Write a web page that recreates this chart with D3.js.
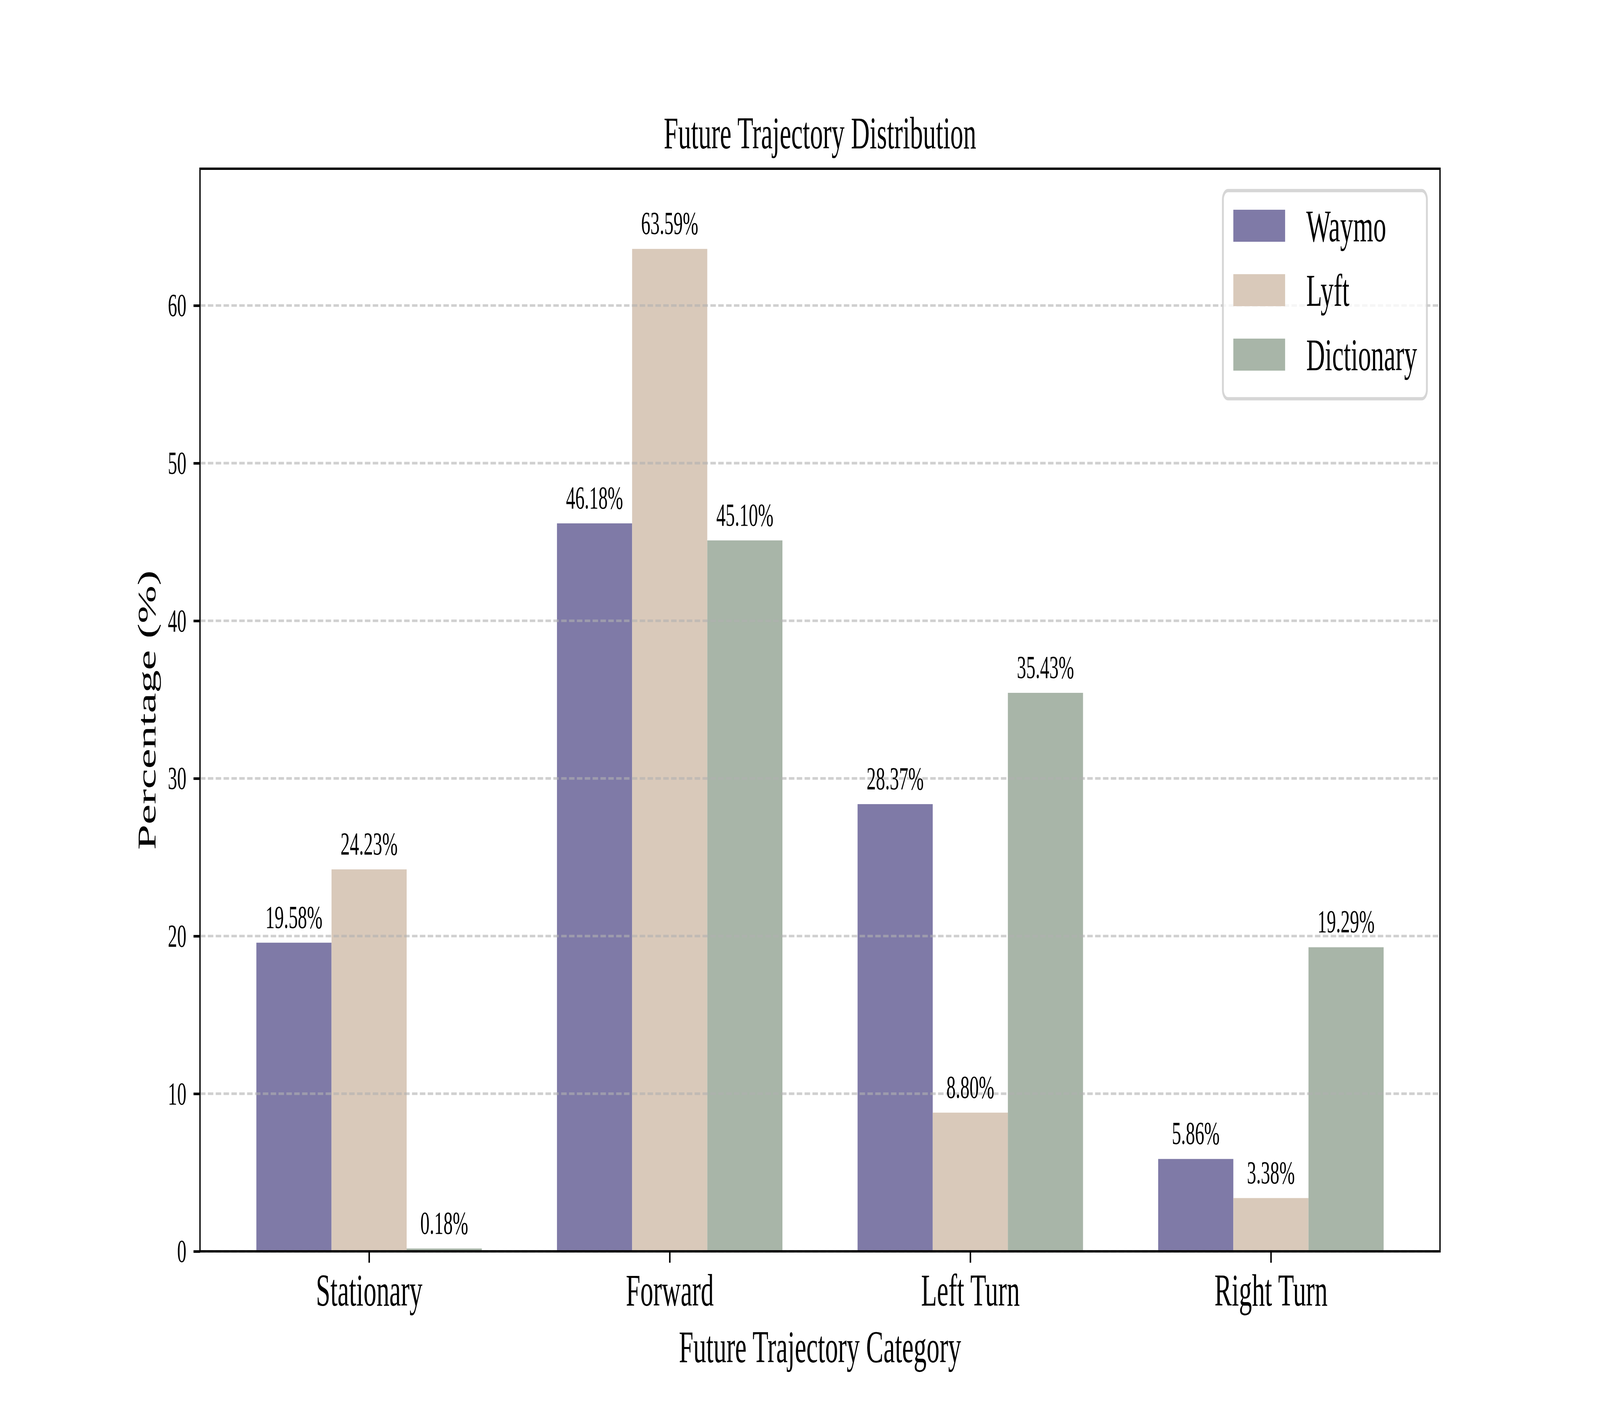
<!DOCTYPE html>
<html>
<head>
<meta charset="utf-8">
<script src="https://cdn.jsdelivr.net/npm/d3@7"></script>
<style>
  html, body { margin: 0; padding: 0; background: #fff; overflow: hidden; }
  #chart svg { display: block; width: 100vw; height: 100vh; }
  text { font-family: "Liberation Serif", "Times New Roman", serif; fill: #000; }
</style>
</head>
<body>
<div id="chart"></div>
<script>
// data
var categories = ["Stationary", "Forward", "Left Turn", "Right Turn"];
var seriesNames = ["Waymo", "Lyft", "Dictionary"];
var waymo = [19.58, 46.18, 28.37, 5.86];
var lyft = [24.23, 63.59, 8.80, 3.38];
var dictionary = [0.18, 45.10, 35.43, 19.29];
var yTicks = [0, 10, 20, 30, 40, 50, 60];
var colors = ["#7f7aa7", "#d9c9ba", "#a8b5a8"];

var series = [waymo, lyft, dictionary];

// figure size and margins (same fractions as a default matplotlib figure)
// drawn in a 7200x3600 user space, stretched to whatever the window is
var W = 7200, H = 3600;
var margin = {left: 900, right: 720, top: 432, bottom: 396};
var pt = 600 / 72;   // pixels per point
var fsBig = 14 * pt, fsSmall = 10 * pt;
var barW = 0.25;

var plotW = W - margin.left - margin.right,
    plotH = H - margin.top - margin.bottom;

var svg = d3.select("#chart")
    .append("svg")
    .attr("viewBox", "0 0 " + W + " " + H)
    .attr("preserveAspectRatio", "none");

var g = svg.append("g")
    .attr("transform", "translate(" + margin.left + "," + margin.top + ")");

// x scale: category index, bars grouped around each index
var x = d3.scaleLinear()
    .domain([-0.5625, 3.5625])
    .range([0, plotW]);

var yMax = d3.max(series, function (s) { return d3.max(s); }) * 1.08;
var y = d3.scaleLinear()
    .domain([0, yMax])
    .range([plotH, 0]);

// bars
var bars = [];
series.forEach(function (s, si) {
    s.forEach(function (v, ci) {
        bars.push({ci: ci, si: si, v: v});
    });
});

g.selectAll(".bar")
    .data(bars)
    .enter()
    .append("rect")
    .attr("class", "bar")
    .attr("x", function (d) { return x(d.ci + (d.si - 1) * barW - barW / 2); })
    .attr("width", function (d) { return x(barW) - x(0); })
    .attr("y", function (d) { return y(d.v); })
    .attr("height", function (d) { return plotH - y(d.v); })
    .attr("fill", function (d) { return colors[d.si]; });

// dashed grid on top of the bars
g.selectAll(".grid")
    .data(yTicks)
    .enter()
    .append("line")
    .attr("class", "grid")
    .attr("x1", 0)
    .attr("x2", plotW)
    .attr("y1", function (d) { return y(d); })
    .attr("y2", function (d) { return y(d); })
    .attr("stroke", "#b0b0b0")
    .attr("stroke-opacity", 0.6)
    .attr("stroke-width", 0.8 * pt)
    .attr("stroke-dasharray", (3.7 * 0.8 * pt) + "," + (1.6 * 0.8 * pt));

// value labels
g.selectAll(".bartext")
    .data(bars)
    .enter()
    .append("text")
    .attr("class", "bartext")
    .attr("text-anchor", "middle")
    .attr("font-size", fsSmall)
    .attr("x", function (d) { return x(d.ci + (d.si - 1) * barW); })
    .attr("y", function (d) { return y(d.v) - 38; })
    .text(function (d) { return d.v.toFixed(2) + "%"; });

// axes
var xAxis = g.append("g")
    .attr("transform", "translate(0," + plotH + ")")
    .call(d3.axisBottom(x)
        .tickValues([0, 1, 2, 3])
        .tickFormat(function (i) { return categories[i]; })
        .tickSize(3.5 * pt)
        .tickPadding(27));
xAxis.select(".domain").remove();
xAxis.selectAll("line").attr("stroke", "#000").attr("stroke-width", 0.8 * pt);
xAxis.selectAll("text")
    .attr("font-size", fsBig)
    .attr("font-family", "Liberation Serif")
    .attr("fill", "#000");

var yAxis = g.append("g")
    .call(d3.axisLeft(y)
        .tickValues(yTicks)
        .tickSize(3.5 * pt)
        .tickPadding(32));
yAxis.select(".domain").remove();
yAxis.selectAll("line").attr("stroke", "#000").attr("stroke-width", 0.8 * pt);
yAxis.selectAll("text")
    .attr("font-size", fsSmall)
    .attr("font-family", "Liberation Serif")
    .attr("fill", "#000");

// frame
g.append("rect")
    .attr("x", 0)
    .attr("y", 0)
    .attr("width", plotW)
    .attr("height", plotH)
    .attr("fill", "none")
    .attr("stroke", "#000")
    .attr("stroke-width", 6);

// title and axis labels
svg.append("text")
    .attr("x", margin.left + plotW / 2)
    .attr("y", margin.top - 52)
    .attr("text-anchor", "middle")
    .attr("font-size", fsBig)
    .text("Future Trajectory Distribution");

svg.append("text")
    .attr("x", margin.left + plotW / 2)
    .attr("y", 3488)
    .attr("text-anchor", "middle")
    .attr("font-size", fsBig)
    .text("Future Trajectory Category");

svg.append("text")
    .attr("transform", "translate(700," + (margin.top + plotH / 2) + ") rotate(-90)")
    .attr("text-anchor", "middle")
    .attr("font-size", fsBig)
    .text("Percentage (%)");

// legend, upper right
var lg = svg.append("g")
    .attr("transform", "translate(5503,488)");

lg.append("rect")
    .attr("width", 918)
    .attr("height", 533)
    .attr("rx", 23)
    .attr("ry", 23)
    .attr("fill", "#fff")
    .attr("fill-opacity", 0.8)
    .attr("stroke", "#cccccc")
    .attr("stroke-opacity", 0.8)
    .attr("stroke-width", pt);

var rows = lg.selectAll(".lrow")
    .data(seriesNames)
    .enter()
    .append("g")
    .attr("class", "lrow")
    .attr("transform", function (d, i) { return "translate(0," + (49 + i * 165) + ")"; });

rows.append("rect")
    .attr("x", 47)
    .attr("width", 233)
    .attr("height", 82)
    .attr("fill", function (d, i) { return colors[i]; });

rows.append("text")
    .attr("x", 375)
    .attr("y", 81)
    .attr("font-size", fsBig)
    .text(function (d) { return d; });
</script>
</body>
</html>
